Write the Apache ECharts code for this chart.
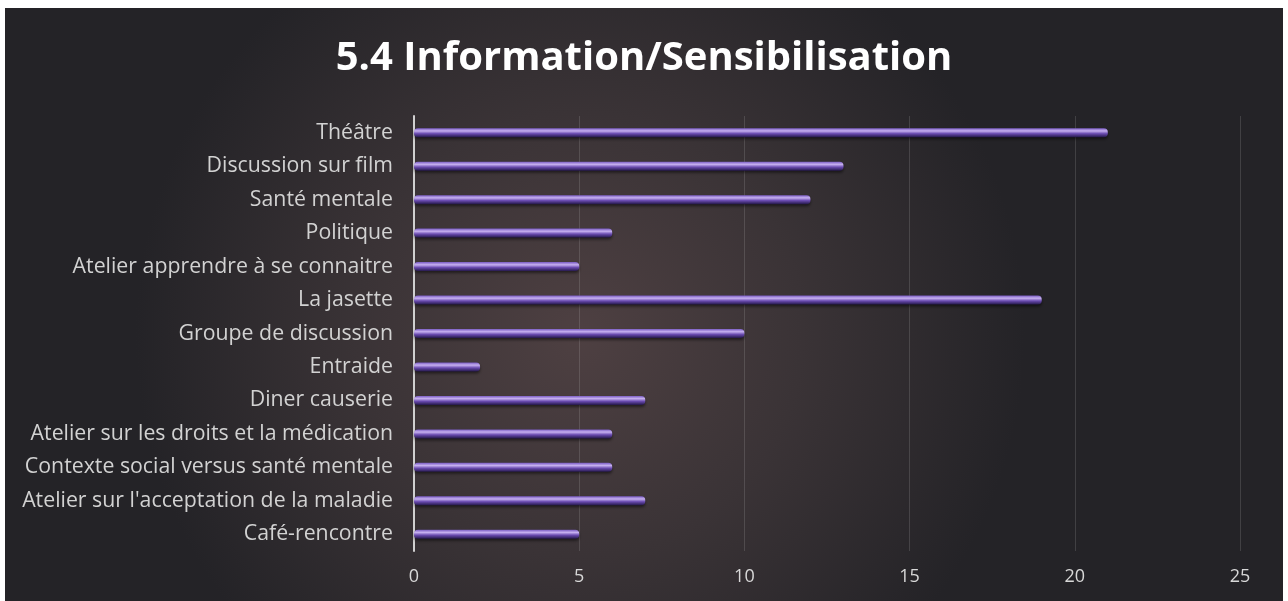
<!DOCTYPE html>
<html><head><meta charset="utf-8">
<script src="https://cdn.jsdelivr.net/npm/echarts@6/dist/echarts.min.js"></script>
<style>
html,body{margin:0;padding:0;background:#fff;width:1288px;height:601px;overflow:hidden}
#c{position:absolute;left:5px;top:8px;width:1278px;height:593px}
</style></head><body>
<div id="c"></div>
<script>
const titleText = '5.4 Information/Sensibilisation';
const categories = ['Théâtre','Discussion sur film','Santé mentale','Politique','Atelier apprendre à se connaitre','La jasette','Groupe de discussion','Entraide','Diner causerie','Atelier sur les droits et la médication','Contexte social versus santé mentale',"Atelier sur l'acceptation de la maladie",'Café-rencontre'];
const values = [21,13,12,6,5,19,10,2,7,6,6,7,5];
const xTicks = [0,5,10,15,20,25];

const chart = echarts.init(document.getElementById('c'));
chart.setOption({
  backgroundColor: {type:'radial', x:0.45, y:0.55, r:0.75,
    colorStops:[{offset:0,color:'#4e4042'},{offset:0.5,color:'#3a3336'},{offset:1,color:'#242327'}]},
  title:{text:titleText,left:'center',top:26,
    textStyle:{color:'#ffffff',fontFamily:'Open Sans',fontWeight:'bold',fontSize:40}},
  grid:{left:409,top:108,width:826,height:435,containLabel:false},
  xAxis:{type:'value',min:0,max:25,interval:5,
    axisLine:{show:false},axisTick:{show:false},
    axisLabel:{color:'#d8d8d8',fontFamily:'Open Sans',fontSize:18,margin:17,
      formatter:v=>xTicks.includes(v)?String(v):''},
    splitLine:{show:true,lineStyle:{color:'rgba(200,200,200,0.18)',width:1}}},
  yAxis:{type:'category',data:categories,inverse:true,
    axisLine:{show:true,lineStyle:{color:'#d0d0d0',width:2}},
    axisTick:{show:false},
    axisLabel:{color:'#d2d2d2',fontFamily:'Open Sans',fontSize:21.3,margin:21}},
  series:[{type:'bar',data:values,barWidth:9,
    itemStyle:{borderRadius:4,
      color:{type:'linear',x:0,y:0,x2:0,y2:1,colorStops:[
        {offset:0,color:'#7a5cc4'},{offset:0.3,color:'#c6b0f0'},
        {offset:0.6,color:'#6a4bb0'},{offset:1,color:'#24184a'}]},
      shadowColor:'rgba(0,0,0,0.5)',shadowBlur:3,shadowOffsetY:2}}]
});
</script></body></html>
